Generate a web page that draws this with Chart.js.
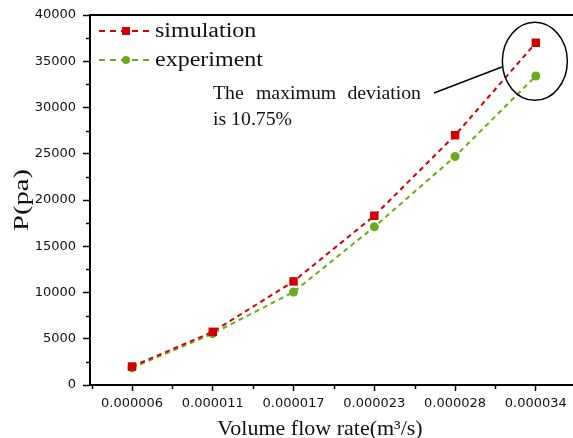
<!DOCTYPE html>
<html lang="en">
<head>
  <meta charset="UTF-8">
  <title>Pressure vs volume flow rate</title>
  <script src="https://cdn.jsdelivr.net/npm/chart.js"></script>
  <style>
    html, body { margin: 0; padding: 0; background: #fff; overflow: hidden; }
    canvas { display: block; }
  </style>
</head>
<body>
  <!-- a few px wider than the window: the right end of the frame runs off the page -->
  <canvas id="chart" width="579" height="438"></canvas>

  <script>
    // flow rate categories (m3/s) and pressure values (Pa)
    const flowRates = ['0.000006', '0.000011', '0.000017', '0.000023', '0.000028', '0.000034'];
    const simulation = [2000, 5750, 11200, 18300, 27000, 37000];
    const experiment = [1850, 5550, 10050, 17100, 24700, 33410];
    const yTicks = [0, 5000, 10000, 15000, 20000, 25000, 30000, 35000, 40000];

    const RED = '#d00000';
    const GREEN = '#6bab20';
    const INK = '#111';

    // text drawn with a horizontal stretch factor
    function drawText(ctx, text, x, y, size, sx, align) {
      ctx.save();
      ctx.translate(x, y);
      ctx.scale(sx, 1);
      ctx.font = size + 'px "Liberation Serif", "Times New Roman", serif';
      ctx.textAlign = align || 'left';
      ctx.textBaseline = 'alphabetic';
      ctx.fillStyle = INK;
      ctx.fillText(text, 0, 0);
      ctx.restore();
    }

    const extras = {
      id: 'extras',
      afterDraw(chart) {
        const ctx = chart.ctx;
        const area = chart.chartArea;
        const xs = chart.scales.x;
        const ys = chart.scales.y;

        ctx.save();
        ctx.strokeStyle = '#000';

        // top frame line
        ctx.lineWidth = 2;
        ctx.beginPath();
        ctx.moveTo(area.left - 1, area.top);
        ctx.lineTo(chart.width, area.top);
        ctx.stroke();

        // minor ticks
        ctx.lineWidth = 1.5;
        ctx.beginPath();
        for (let v = 2500; v < 40000; v += 5000) {
          const y = Math.round(ys.getPixelForValue(v)) + 0.5;
          ctx.moveTo(area.left - 4, y);
          ctx.lineTo(area.left, y);
        }
        for (let i = -0.5; i <= xs.max; i += 1) {
          if (i < xs.min) continue;
          const x = Math.round(xs.getPixelForValue(i)) + 0.5;
          ctx.moveTo(x, area.bottom);
          ctx.lineTo(x, area.bottom + 4);
        }
        ctx.stroke();

        // legend
        const legendRows = [
          { label: 'simulation', ds: 0, y: 31 },
          { label: 'experiment', ds: 1, y: 60 }
        ];
        legendRows.forEach(row => {
          const ds = chart.data.datasets[row.ds];
          ctx.save();
          ctx.strokeStyle = ds.borderColor;
          ctx.lineWidth = 2;
          ctx.setLineDash([6, 5]);
          ctx.beginPath();
          ctx.moveTo(99, row.y);
          ctx.lineTo(153, row.y);
          ctx.stroke();
          ctx.restore();
          ctx.fillStyle = ds.backgroundColor;
          if (ds.pointStyle === 'rect') {
            ctx.fillRect(122, row.y - 4, 8, 8);
          } else {
            ctx.beginPath();
            ctx.arc(126, row.y, 4, 0, Math.PI * 2);
            ctx.fill();
          }
          drawText(ctx, row.label, 155, row.y + 6, 20, 1.2, 'left');
        });

        // ring around the last pair of points and its leader line
        const cx = xs.getPixelForValue(5) - 1;
        const cy = (ys.getPixelForValue(simulation[5]) + ys.getPixelForValue(experiment[5])) / 2 + 2;
        ctx.strokeStyle = '#000';
        ctx.lineWidth = 1.5;
        ctx.beginPath();
        ctx.ellipse(cx, cy, 32.5, 39, 0, 0, Math.PI * 2);
        ctx.stroke();
        ctx.beginPath();
        ctx.moveTo(434, 93);
        ctx.lineTo(cx - 33, 67);
        ctx.stroke();

        // note text, justified first line
        drawText(ctx, 'The', 213, 99, 19, 1.04, 'left');
        drawText(ctx, 'maximum', 256, 99, 19, 1.04, 'left');
        drawText(ctx, 'deviation', 421, 99, 19, 1.04, 'right');
        drawText(ctx, 'is 10.75%', 213, 125, 19, 1.04, 'left');

        // axis titles
        drawText(ctx, 'Volume flow rate(m\u00B3/s)', 320, 435, 22, 1.0, 'center');
        ctx.save();
        ctx.translate(28, 200);
        ctx.rotate(-Math.PI / 2);
        drawText(ctx, 'P(pa)', 0, 0, 22, 1.3, 'center');
        ctx.restore();

        ctx.restore();
      }
    };

    const tickFont = { family: '"DejaVu Sans", Verdana, sans-serif', size: 13 };

    new Chart(document.getElementById('chart').getContext('2d'), {
      type: 'line',
      data: {
        datasets: [
          {
            label: 'simulation',
            data: simulation.map((v, i) => ({ x: i, y: v })),
            borderColor: RED,
            backgroundColor: RED,
            borderWidth: 2,
            borderDash: [5, 4],
            pointStyle: 'rect',
            pointRadius: 6,
            pointBorderWidth: 0,
            fill: false
          },
          {
            label: 'experiment',
            data: experiment.map((v, i) => ({ x: i, y: v })),
            borderColor: GREEN,
            backgroundColor: GREEN,
            borderWidth: 2,
            borderDash: [5, 4],
            pointStyle: 'circle',
            pointRadius: 4.5,
            pointBorderWidth: 0,
            fill: false
          }
        ]
      },
      options: {
        responsive: false,
        devicePixelRatio: 1,
        animation: false,
        layout: { padding: { top: 15, right: 0, left: 0, bottom: 0 } },
        plugins: { legend: { display: false }, tooltip: { enabled: false } },
        scales: {
          x: {
            type: 'linear',
            min: -0.52,
            max: 5.46,
            afterBuildTicks: s => { s.ticks = flowRates.map((_, i) => ({ value: i })); },
            afterFit: s => { s.height = 53; },
            ticks: {
              callback: v => flowRates[v],
              font: tickFont,
              color: INK,
              padding: 5,
              maxRotation: 0
            },
            grid: { drawOnChartArea: false, tickLength: 6, tickColor: '#000', tickWidth: 1.5 },
            border: { color: '#000', width: 2 }
          },
          y: {
            min: 0,
            max: 40000,
            afterBuildTicks: s => { s.ticks = yTicks.map(v => ({ value: v })); },
            afterFit: s => { s.width = 90; },
            ticks: { font: tickFont, color: INK, padding: 7, callback: v => String(v) },
            grid: { drawOnChartArea: false, tickLength: 7, tickColor: '#000', tickWidth: 1.5 },
            border: { color: '#000', width: 2 }
          }
        }
      },
      plugins: [extras]
    });
  </script>
</body>
</html>
